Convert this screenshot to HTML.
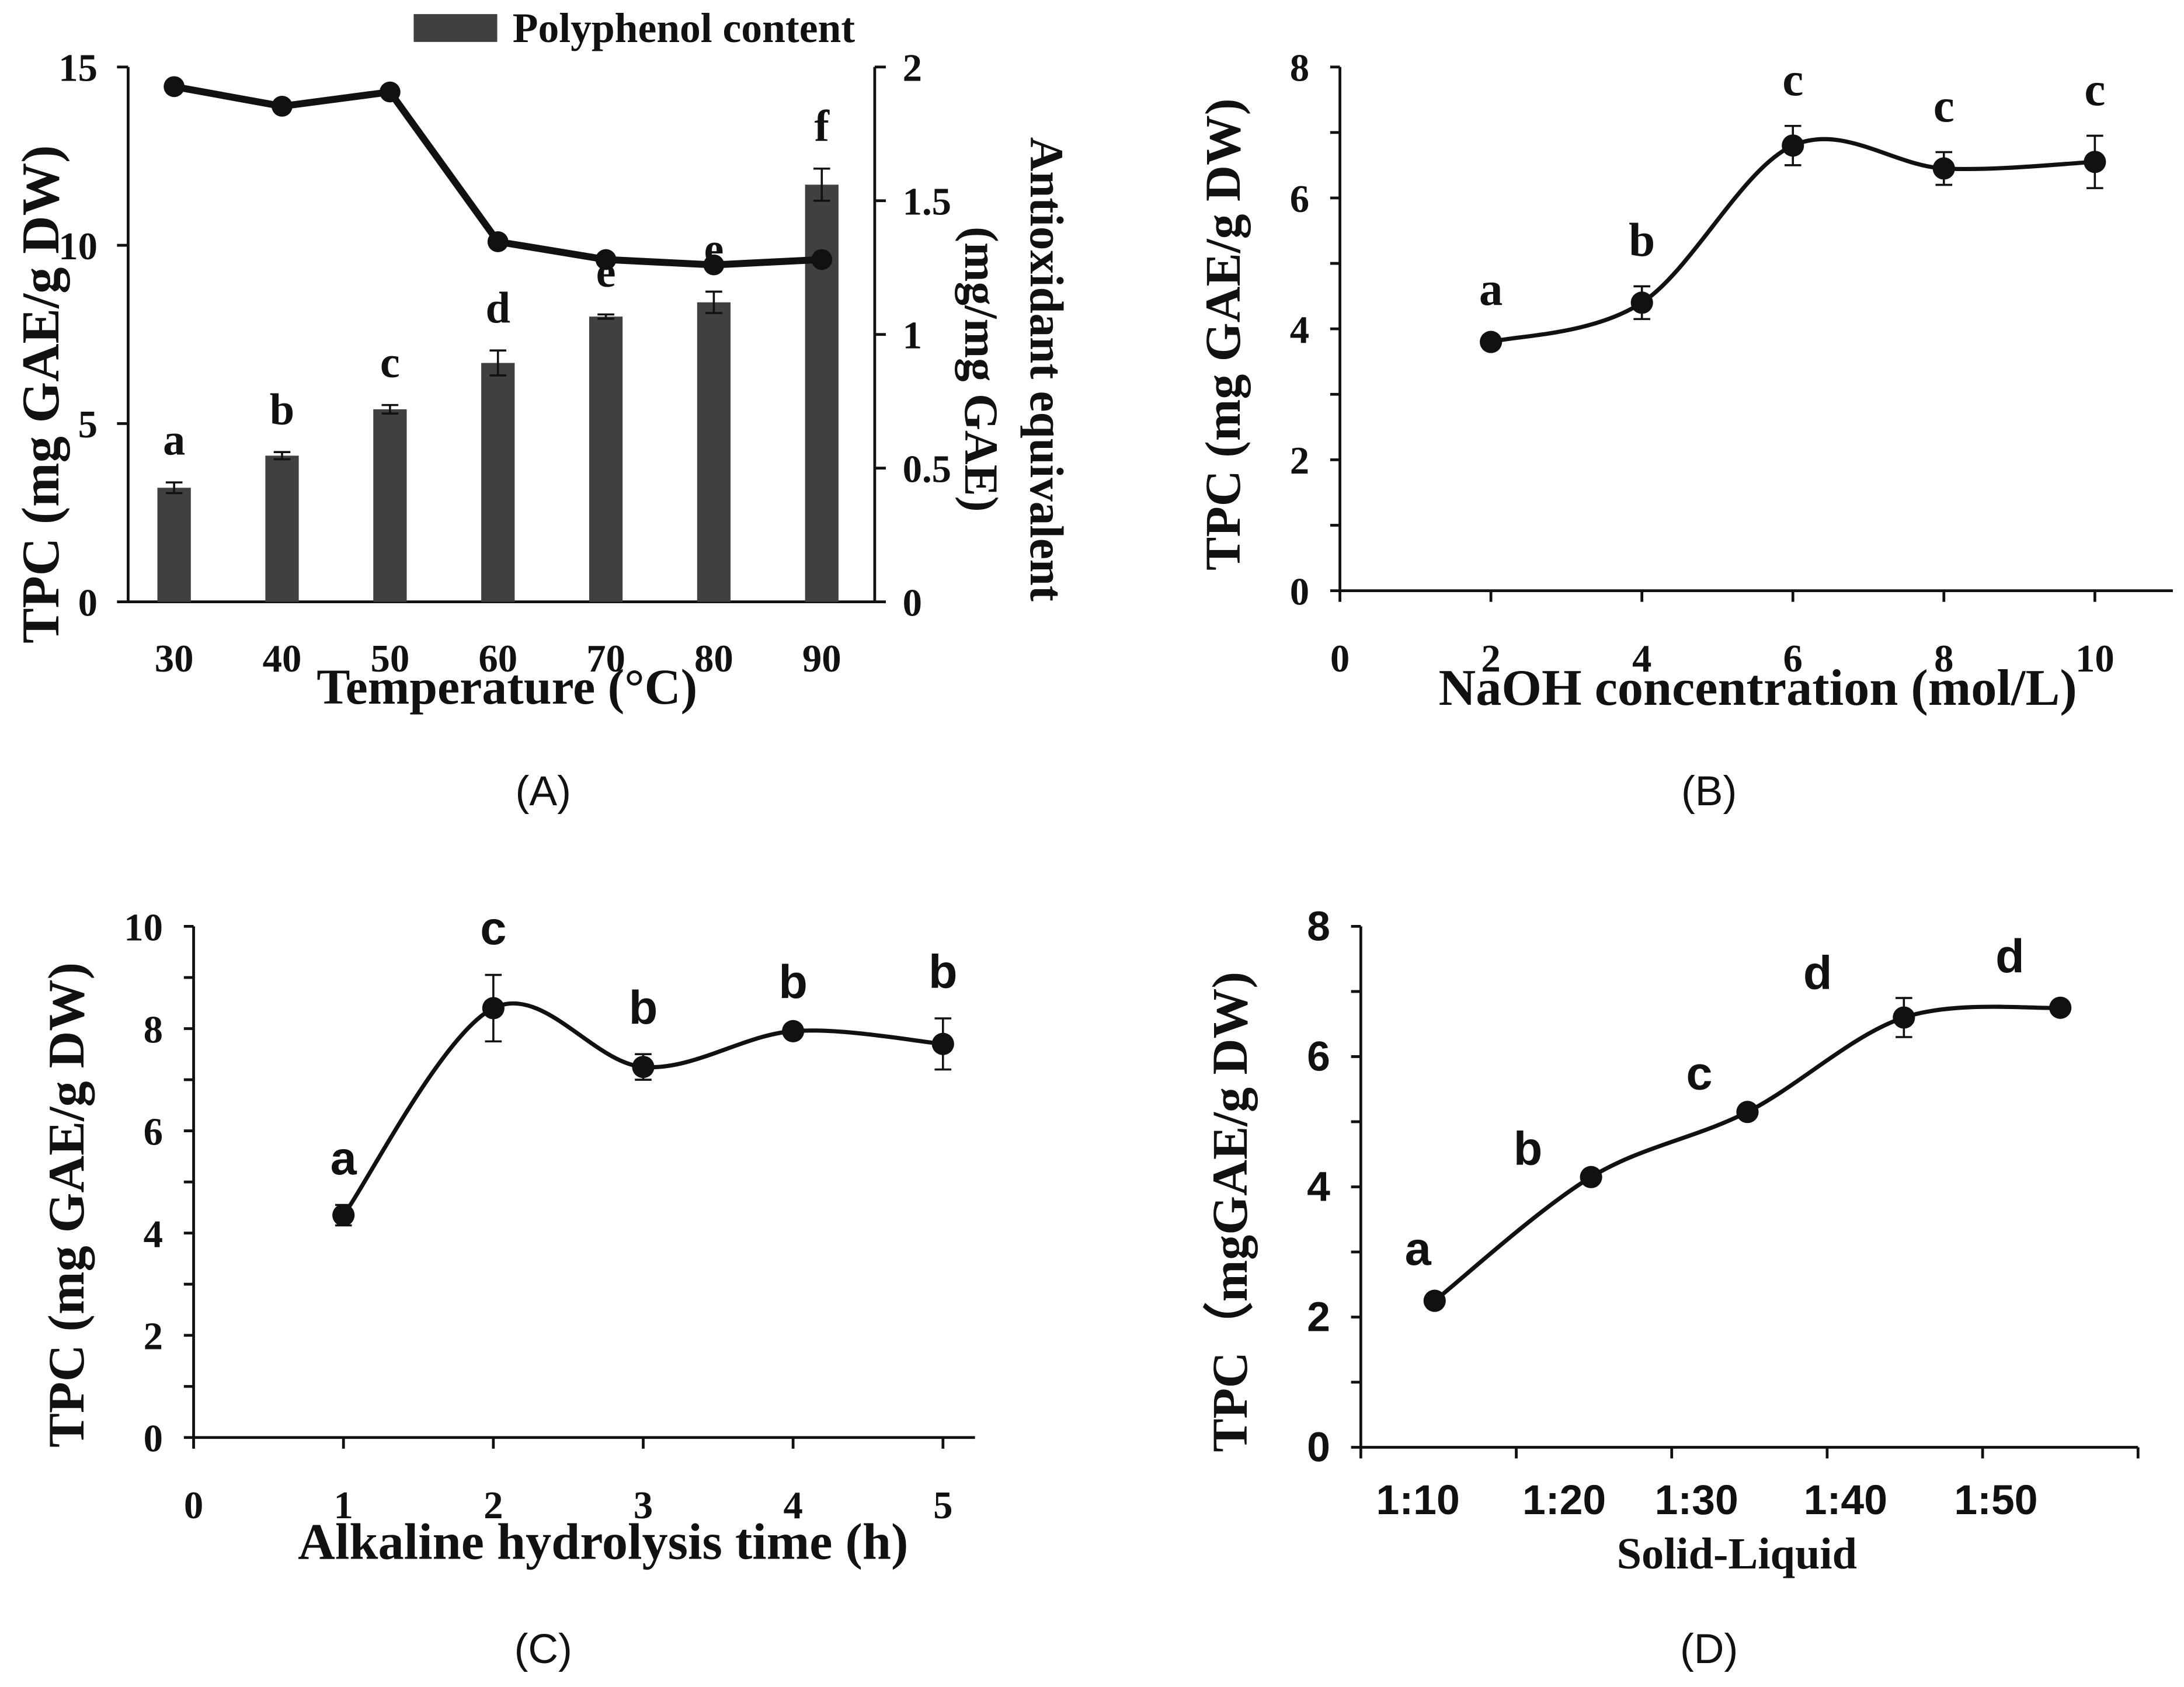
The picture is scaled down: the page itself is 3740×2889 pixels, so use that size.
<!DOCTYPE html>
<html><head><meta charset="utf-8"><style>html,body{margin:0;padding:0;background:#fff}svg{display:block}
.t{font-family:"Liberation Serif",serif;font-weight:bold;fill:#111}
.s{font-family:"Liberation Sans",sans-serif;fill:#111}
</style></head><body>
<svg id="c" width="3740" height="2889" viewBox="0 0 1568 1211" xmlns="http://www.w3.org/2000/svg"></svg>
<script>
// Panel A data
const aCats=["30","40","50","60","70","80","90"];
const aBars=[3.2,4.1,5.4,6.7,8.0,8.4,11.7];
const aBarErr=[0.15,0.1,0.12,0.35,0.06,0.3,0.45];
const aLine=[14.45,13.9,14.3,10.1,9.6,9.45,9.6];
const aLetters=["a","b","c","d","e","e","f"];
const aYTicks=[0,5,10,15];
const aY2Ticks=["0","0.5","1","1.5","2"];
// Panel B
const bX=[2,4,6,8,10];
const bY=[3.8,4.4,6.8,6.45,6.55];
const bErr=[0.1,0.25,0.3,0.25,0.4];
const bLetters=["a","b","c","c","c"];
const bXTicks=[0,2,4,6,8,10];
const bYTicks=[0,2,4,6,8];
// Panel C
const cX=[1,2,3,4,5];
const cY=[4.35,8.4,7.25,7.95,7.7];
const cErr=[0.2,0.65,0.25,0.05,0.5];
const cLetters=["a","c","b","b","b"];
const cXTicks=[0,1,2,3,4,5];
const cYTicks=[0,2,4,6,8,10];
// Panel D
const dCats=["1:10","1:20","1:30","1:40","1:50"];
const dY=[2.25,4.15,5.15,6.6,6.75];
const dErr=[0.05,0.05,0.05,0.3,0.05];
const dLetters=["a","b","c","d","d"];
const dYTicks=[0,2,4,6,8];

const svg=document.getElementById('c');
const NS="http://www.w3.org/2000/svg";
function el(tag,attrs,parent,text){const e=document.createElementNS(NS,tag);for(const k in attrs)e.setAttribute(k,attrs[k]);if(text!==undefined)e.textContent=text;(parent||svg).appendChild(e);return e;}
function grp(name){const g=el('g',{});return g;}
function line(g,x1,y1,x2,y2,w){return el('line',{x1,y1,x2,y2,stroke:'#111','stroke-width':w||2},g);}
function txt(g,x,y,s,cls,size,anchor,extra){const e=el('text',Object.assign({x,y,class:cls,'font-size':size,'text-anchor':anchor||'middle'},extra||{}),g,s);return e;}
function smooth(pts){let d=`M${pts[0][0]},${pts[0][1]}`;for(let i=0;i<pts.length-1;i++){const p0=pts[i-1]||pts[i],p1=pts[i],p2=pts[i+1],p3=pts[i+2]||p2;const c1=[p1[0]+(p2[0]-p0[0])/6,p1[1]+(p2[1]-p0[1])/6],c2=[p2[0]-(p3[0]-p1[0])/6,p2[1]-(p3[1]-p1[1])/6];d+=` C${c1[0]},${c1[1]} ${c2[0]},${c2[1]} ${p2[0]},${p2[1]}`;}return d;}
function errbar(g,x,y1,y2){line(g,x,y1,x,y2,1.5);line(g,x-6,y1,x+6,y1,1.5);line(g,x-6,y2,x+6,y2,1.5);}
function ytitle(g,x,y,s,size){const t=txt(g,x,y,s,'t',size,'middle',{transform:`rotate(-90 ${x} ${y})`});t.setAttribute('fill','#2a0a0a');return t;}

// ---------- Panel A ----------
{const g=grp('panel-a');
const x0=92,x1=628,yT=48,yB=432;
const ys=v=>yB-(v/15)*(yB-yT);
const xs=i=>125+i*77.5;
line(g,x0,yT,x0,yB);line(g,x1,yT,x1,yB);line(g,x0,yB,x1,yB);
aYTicks.forEach(v=>{line(g,x0-8,ys(v),x0,ys(v));txt(g,x0-22,ys(v)+10,String(v),'t',28,'end');});
aY2Ticks.forEach((s,i)=>{const y=yB-i*(yB-yT)/4;line(g,x1,y,x1+8,y);txt(g,x1+20,y+10,s,'t',28,'start');});
aCats.forEach((c,i)=>{const b=el('rect',{x:xs(i)-12,y:ys(aBars[i]),width:24,height:yB-ys(aBars[i]),fill:'#404040'},g);
errbar(g,xs(i),ys(aBars[i]+aBarErr[i]),ys(aBars[i]-aBarErr[i]));
txt(g,xs(i),ys(aBars[i]+aBarErr[i])-20,aLetters[i],'t',32);
txt(g,xs(i),482,c,'t',28);});
const pts=aLine.map((v,i)=>[xs(i),ys(v)]);
el('polyline',{points:pts.map(p=>p.join(',')).join(' '),fill:'none',stroke:'#111','stroke-width':5},g);
pts.forEach(p=>{const c=el('circle',{cx:p[0],cy:p[1],r:7.5,fill:'#111'},g);});
el('rect',{x:297,y:10,width:60,height:20,fill:'#404040'},g);
txt(g,368,30,'Polyphenol  content','t',30,'start');
txt(g,364,505,'Temperature (°C)','t',36);
ytitle(g,42,283,'TPC (mg GAE/g DW)',38);
txt(g,740,265,'Antioxidant equivalent','t',34,'middle',{transform:'rotate(90 740 265)'});
txt(g,693,265,'(mg/mg GAE)','t',34,'middle',{transform:'rotate(90 693 265)'});
txt(g,390,578,'(A)','s',30);}

// ---------- Panel B ----------
{const g=grp('panel-b');
const x0=962,yT=48,yB=424;
const xs=v=>x0+v*54.2, ys=v=>yB-(v/8)*(yB-yT);
line(g,x0,yT,x0,yB);line(g,x0,yB,1560,yB);
for(let v=0;v<=8;v+=1){line(g,x0-7,ys(v),x0,ys(v));}
bYTicks.forEach(v=>txt(g,x0-22,ys(v)+10,String(v),'t',28,'end'));
bXTicks.forEach(v=>{line(g,xs(v),yB,xs(v),yB+8);txt(g,xs(v),482,String(v),'t',28);});
const pts=bX.map((v,i)=>[xs(v),ys(bY[i])]);
el('path',{d:smooth(pts),fill:'none',stroke:'#111','stroke-width':3},g);
pts.forEach((p,i)=>{errbar(g,p[0],ys(bY[i]+bErr[i]),ys(bY[i]-bErr[i]));const c=el('circle',{cx:p[0],cy:p[1],r:8,fill:'#111'},g);
txt(g,p[0],ys(bY[i]+bErr[i])-22,bLetters[i],'t',34);});
txt(g,1262,506,'NaOH concentration (mol/L)','t',37);
ytitle(g,890,240,'TPC (mg GAE/g DW)',36);
txt(g,1227,578,'(B)','s',30);}

// ---------- Panel C ----------
{const g=grp('panel-c');
const x0=139,yT=665,yB=1032;
const xs=v=>x0+v*107.6, ys=v=>yB-(v/10)*(yB-yT);
line(g,x0,yT,x0,yB);line(g,x0,yB,700,yB);
for(let v=0;v<=10;v+=1){line(g,x0-7,ys(v),x0,ys(v));}
cYTicks.forEach(v=>txt(g,x0-22,ys(v)+10,String(v),'t',28,'end'));
cXTicks.forEach(v=>{line(g,xs(v),yB,xs(v),yB+8);txt(g,xs(v),1090,String(v),'t',28);});
const pts=cX.map((v,i)=>[xs(v),ys(cY[i])]);
el('path',{d:smooth(pts),fill:'none',stroke:'#111','stroke-width':3},g);
pts.forEach((p,i)=>{errbar(g,p[0],ys(cY[i]+cErr[i]),ys(cY[i]-cErr[i]));const c=el('circle',{cx:p[0],cy:p[1],r:8,fill:'#111'},g);
txt(g,p[0],ys(cY[i]+cErr[i])-22,cLetters[i],'s',34,'middle',{'font-weight':'bold'});});
txt(g,433,1119,'Alkaline hydrolysis time (h)','t',37);
ytitle(g,60,865,'TPC (mg GAE/g DW)',37);
txt(g,390,1194,'(C)','s',30);}

// ---------- Panel D ----------
{const g=grp('panel-d');
const x0=977,yT=665,yB=1039;
const ys=v=>yB-(v/8)*(yB-yT), xs=i=>1030+i*112.3;
line(g,x0,yT,x0,yB);line(g,x0,yB,1535,yB);
for(let v=0;v<=8;v+=1){line(g,x0-7,ys(v),x0,ys(v));}
dYTicks.forEach(v=>txt(g,x0-22,ys(v)+10,String(v),'s',30,'end',{'font-weight':'bold'}));
for(let i=0;i<=5;i++){line(g,x0+i*111.6,yB,x0+i*111.6,yB+8);}
const lx=[1018,1123,1218,1325,1433];
dCats.forEach((c,i)=>txt(g,lx[i],1087,c,'s',30,'middle',{'font-weight':'bold'}));
const pts=dY.map((v,i)=>[xs(i),ys(v)]);
el('path',{d:smooth(pts),fill:'none',stroke:'#111','stroke-width':3},g);
const letPos=[[1018,908],[1097,836],[1220,782],[1305,710],[1443,698]];
pts.forEach((p,i)=>{errbar(g,p[0],ys(dY[i]+dErr[i]),ys(dY[i]-dErr[i]));const c=el('circle',{cx:p[0],cy:p[1],r:8,fill:'#111'},g);
txt(g,letPos[i][0],letPos[i][1],dLetters[i],'s',34,'middle',{'font-weight':'bold'});});
txt(g,1247,1126,'Solid-Liquid','t',32);
ytitle(g,895,870,'TPC（mgGAE/g DW)',36);
txt(g,1227,1194,'(D)','s',30);}
</script>
</body></html>
